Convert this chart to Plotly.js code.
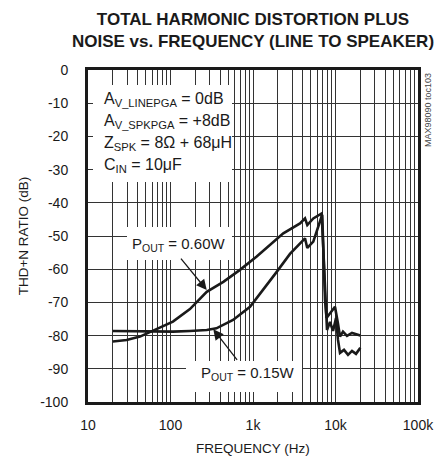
<!DOCTYPE html>
<html>
<head>
<meta charset="utf-8">
<script src="https://cdn.plot.ly/plotly-3.0.1.min.js"></script>
<style>
html,body{margin:0;padding:0;background:#fff;}
#chart{width:440px;height:463px;}
</style>
</head>
<body>
<div id="chart"></div>
<script>
// ---- data ----
var freq060 = [20, 29.4, 42.7, 56.4, 74.6, 107, 172, 275, 437, 695, 1109, 1766, 2330, 3716, 4267, 4550, 5380, 6800,
               7260, 7890, 8570, 9330, 10150, 10720, 11340, 12680, 14180, 15850, 17720, 20000];
var thd060  = [-81.8, -81.3, -80.3, -79.0, -77.7, -75.8, -72.0, -66.8, -63.8, -60.2, -56.2, -51.7, -49.2, -46.2, -44.7, -46.7, -44.7, -43.2,
               -57.2, -78.3, -75.9, -78.6, -74.7, -81.3, -85.2, -84.3, -85.8, -84.6, -85.5, -83.7];

var freq015 = [20, 30, 43, 70, 107, 172, 275, 360, 437, 573, 920, 1321, 1938, 2807, 3716, 4267, 4550, 5380, 6900,
               7467, 7780, 8570, 9860, 10700, 11340, 12330, 13780, 15850, 18220, 20000];
var thd015  = [-78.6, -78.7, -78.8, -78.7, -78.8, -78.6, -78.3, -77.8, -76.8, -75.3, -71.3, -66.3, -60.8, -55.4, -52.4, -50.7, -53.6, -51.7, -43.6,
               -69.3, -74.7, -73.2, -71.3, -76.3, -80.3, -78.8, -80.1, -79.2, -79.8, -80.0];

var seriesNames = ['P<sub>OUT</sub> = 0.60W', 'P<sub>OUT</sub> = 0.15W'];

var xDecades = [10, 100, 1000, 10000, 100000];
var xDecadeLabels = ['10', '100', '1k', '10k', '100k'];
var yTickVals = [0, -10, -20, -30, -40, -50, -60, -70, -80, -90, -100];
var yTickText = ['0', '-10', '-20', '-30', '-40', '-50', '-60', '-70', '-80', '-90', '-100'];

var condLines = ['A<sub>V_LINEPGA</sub> = 0dB', 'A<sub>V_SPKPGA</sub> = +8dB', 'Z<sub>SPK</sub> = 8Ω + 68μH', 'C<sub>IN</sub> = 10μF'];
var arrowTips = [{x: 275, y: -66.3}, {x: 330, y: -78.1}];

// ---- minor grid positions (2..9 of each decade) ----
var xMinorVals = [];
for (var d = 0; d < xDecades.length - 1; d++) {
  for (var m = 2; m <= 9; m++) xMinorVals.push(xDecades[d] * m);
}

var FONT = 'Liberation Sans, Arial, Helvetica, sans-serif';
var INK = '#1a1a1a';

var traces = [
  {x: freq060, y: thd060, type: 'scatter', mode: 'lines', name: seriesNames[0],
   line: {color: INK, width: 2.6}},
  {x: freq015, y: thd015, type: 'scatter', mode: 'lines', name: seriesNames[1],
   line: {color: INK, width: 2.6}}
];

// paper-coordinate helpers (plot area: 330 x 332 px)
function px(xp) { return (xp - 88) / 330; }
function py(yp) { return (402 - yp) / 332; }

var annotations = [];
var lineY = [99, 121.5, 143.5, 165];
for (var i = 0; i < condLines.length; i++) {
  annotations.push({xref: 'paper', yref: 'paper', x: px(102), y: py(lineY[i]), xanchor: 'left', yanchor: 'middle',
    text: condLines[i], showarrow: false, font: {family: FONT, size: 16, color: INK}});
}
annotations.push({xref: 'paper', yref: 'paper', x: px(178), y: py(244), xanchor: 'center', yanchor: 'middle',
  text: seriesNames[0], showarrow: false, font: {family: FONT, size: 15, color: INK}});
annotations.push({xref: 'paper', yref: 'paper', x: px(247), y: py(373), xanchor: 'center', yanchor: 'middle',
  text: seriesNames[1], showarrow: false, font: {family: FONT, size: 15, color: INK}});
// arrows
annotations.push({x: Math.log10(arrowTips[0].x), y: arrowTips[0].y, xref: 'x', yref: 'y', text: '', showarrow: true,
  ax: -27, ay: -33, arrowhead: 2, arrowsize: 1.6, arrowwidth: 1.3, arrowcolor: INK});
annotations.push({x: Math.log10(arrowTips[1].x), y: arrowTips[1].y, xref: 'x', yref: 'y', text: '', showarrow: true,
  ax: 25, ay: 32, arrowhead: 2, arrowsize: 1.6, arrowwidth: 1.3, arrowcolor: INK});
// figure code
annotations.push({xref: 'paper', yref: 'paper', x: px(428), y: py(110), xanchor: 'center', yanchor: 'middle',
  text: 'MAX98090 toc103', textangle: -90, showarrow: false, font: {family: FONT, size: 9, color: '#444'}});

var boxes = [
  [93, 85, 232, 182],
  [127, 227, 232, 260],
  [186, 361, 302, 392]
];
var shapes = boxes.map(function (b) {
  return {type: 'rect', xref: 'paper', yref: 'paper', x0: px(b[0]), x1: px(b[2]), y0: py(b[3]), y1: py(b[1]),
    fillcolor: '#ffffff', line: {width: 0}, layer: 'above'};
});

var layout = {
  width: 440, height: 463,
  margin: {l: 88, r: 22, t: 70, b: 61},
  paper_bgcolor: '#ffffff', plot_bgcolor: '#ffffff',
  showlegend: false,
  title: {text: 'TOTAL HARMONIC DISTORTION PLUS<br>NOISE vs. FREQUENCY (LINE TO SPEAKER)',
    xref: 'paper', x: 0.5, xanchor: 'center', yref: 'container', y: 0.947, yanchor: 'top',
    font: {family: FONT, size: 17, weight: 'bold', color: INK}},
  xaxis: {type: 'log', range: [1, 5], tickmode: 'array', tickvals: xDecades, ticktext: xDecadeLabels,
    showgrid: true, gridcolor: '#333', gridwidth: 1, zeroline: false,
    minor: {tickmode: 'array', tickvals: xMinorVals, showgrid: true, gridcolor: '#333', gridwidth: 1, ticks: ''},
    showline: true, mirror: true, linecolor: INK, linewidth: 3, ticks: '',
    ticklabelstandoff: 8,
    tickfont: {family: FONT, size: 14, color: INK},
    title: {text: 'FREQUENCY (Hz)', font: {family: FONT, size: 13.5, color: INK}, standoff: 12}},
  yaxis: {range: [-100, 0], tickmode: 'array', tickvals: yTickVals, ticktext: yTickText,
    showgrid: true, gridcolor: '#333', gridwidth: 1, zeroline: false,
    showline: true, mirror: true, linecolor: INK, linewidth: 3, ticks: '',
    ticklabelstandoff: 14,
    tickfont: {family: FONT, size: 14, color: INK},
    title: {text: 'THD+N RATIO (dB)', font: {family: FONT, size: 13.5, color: INK}, standoff: 9}},
  annotations: annotations,
  shapes: shapes
};

Plotly.newPlot('chart', traces, layout, {displayModeBar: false, staticPlot: true});
</script>
</body>
</html>
